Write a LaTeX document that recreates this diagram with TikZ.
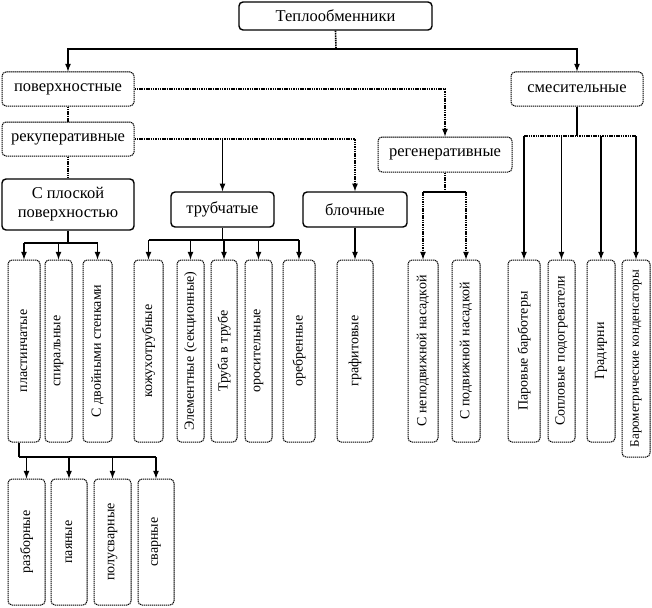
\documentclass[tikz,border=0pt]{standalone}
\usepackage{fontspec}
\setmainfont{Liberation Serif}

\tikzset{
  box/.style={draw, dash pattern=on 1.3pt off 0.7pt, line width=1pt, rounded corners=4pt, align=center, inner sep=0pt, font=\fontsize{16.5}{19}\selectfont},
  bbox/.style={box, solid, line width=1.4pt},
  vbox/.style={box, rotate=90, minimum width=182, font=\fontsize{14}{16}\selectfont},
  conn/.style={line width=1.6pt},
  dconn/.style={line width=1.6pt, dash pattern=on 1.5pt off 0.8pt},
  arr/.style={-latex},
}

\begin{document}
\begin{tikzpicture}[x=1pt, y=-1pt]
\useasboundingbox (0,0) rectangle (652,607);
% upper levels
\node[bbox, minimum width=193, minimum height=28] (top) at (335.5,16) {Теплообменники};
\node[box, minimum width=132, minimum height=34] (pov) at (68,89) {поверхностные};
\node[box, minimum width=132, minimum height=34] (smes) at (577,89) {смесительные};
\node[box, minimum width=132, minimum height=34] (rek) at (68,139) {рекуперативные};
\node[box, minimum width=134, minimum height=35] (reg) at (445,154.5) {регенеративные};
\node[bbox, minimum width=132, minimum height=51] (plosk) at (68,204.5) {С плоской\\поверхностью};
\node[bbox, minimum width=103, minimum height=35] (trub) at (222.5,209.5) {трубчатые};
\node[bbox, minimum width=104, minimum height=35] (bloch) at (355,209.5) {блочные};
% vertical boxes
\node[vbox, minimum height=32] (plast) at (24,351) {пластинчатые};
\node[vbox, minimum height=27] (spir) at (58.5,351) {спиральные};
\node[vbox, minimum height=29] (dvoin) at (97.5,351) {С двойными стенками};
\node[vbox, minimum height=29] (kozh) at (148.5,351) {кожухотрубные};
\node[vbox, minimum height=27] (elem) at (190.5,351) {Элементные (секционные)};
\node[vbox, minimum height=26] (truba) at (224,351) {Труба в трубе};
\node[vbox, minimum height=27] (oros) at (258.5,351) {оросительные};
\node[vbox, minimum height=32] (oreb) at (299,351) {оребренные};
\node[vbox, minimum height=36] (graf) at (355,351) {графитовые};
\node[vbox, minimum height=30] (nepodv) at (423,351) {С неподвижной насадкой};
\node[vbox, minimum height=28] (podv) at (466,351) {С подвижной насадкой};
\node[vbox, minimum height=32] (barb) at (524,351) {Паровые барботеры};
\node[vbox, minimum height=27] (sopl) at (561.5,351) {Сопловые подогреватели};
\node[vbox, minimum height=28] (grad) at (601,351) {Градирни};
\node[vbox, minimum height=28, minimum width=197, font=\fontsize{13}{15}\selectfont] (barom) at (636,358.5) {Барометрические конденсаторы};
% bottom row
\node[vbox, minimum width=126, minimum height=37] (razb) at (26.5,542) {разборные};
\node[vbox, minimum width=126, minimum height=36] (payan) at (69,542) {паяные};
\node[vbox, minimum width=126, minimum height=37] (polusv) at (112.5,542) {полусварные};
\node[vbox, minimum width=126, minimum height=36] (svar) at (156,542) {сварные};
% connectors
\coordinate (j0) at (336,49);
\draw[dconn] (top.south) -- (j0);
\draw[conn, arr] (j0) -| (pov.north);
\draw[conn, arr] (j0) -| (smes.north);
\draw[dconn] (pov) -- (rek);
\draw[dconn] (rek) -- (plosk);
\draw[dconn, arr] (pov.east) -| (reg.north);
\draw[dconn, arr] (rek.east) -| (bloch.north);
\draw[conn, arr] (trub.north |- rek.east) -- (trub.north);
\draw[conn, arr] (bloch.south) -- (graf.east);
% flat surface
\coordinate (j1) at (58.5,243);
\draw[conn] (plosk.south) -- (plosk.south |- j1);
\draw[conn] (plast.east |- j1) -- (dvoin.east |- j1);
\foreach \n in {plast,spir,dvoin}
  \draw[conn, arr] (\n.east |- j1) -- (\n.east);
% tubular
\coordinate (j2) at (222.5,240);
\draw[conn] (trub.south) -- (j2);
\draw[conn] (kozh.east |- j2) -- (oreb.east |- j2);
\foreach \n in {kozh,elem,truba,oros,oreb}
  \draw[conn, arr] (\n.east |- j2) -- (\n.east);
% regenerative
\coordinate (j3) at (445,192);
\draw[dconn] (reg.south) -- (j3);
\draw[conn] (nepodv.east |- j3) -- (podv.east |- j3);
\foreach \n in {nepodv,podv}
  \draw[dconn, arr] (\n.east |- j3) -- (\n.east);
% mixing
\coordinate (j4) at (577,136);
\draw[conn] (smes.south) -- (j4);
\draw[dconn] (barb.east |- j4) -- (barom.east |- j4);
\foreach \n in {barb,sopl,grad,barom}
  \draw[conn, arr] (\n.east |- j4) -- (\n.east);
% plate types
\coordinate (j5) at (19,457);
\draw[conn] (plast.west -| j5) -- (j5);
\draw[conn] (j5) -- (svar.east |- j5);
\foreach \n in {razb,payan,polusv,svar}
  \draw[conn, arr] (\n.east |- j5) -- (\n.east);
\end{tikzpicture}
\end{document}
